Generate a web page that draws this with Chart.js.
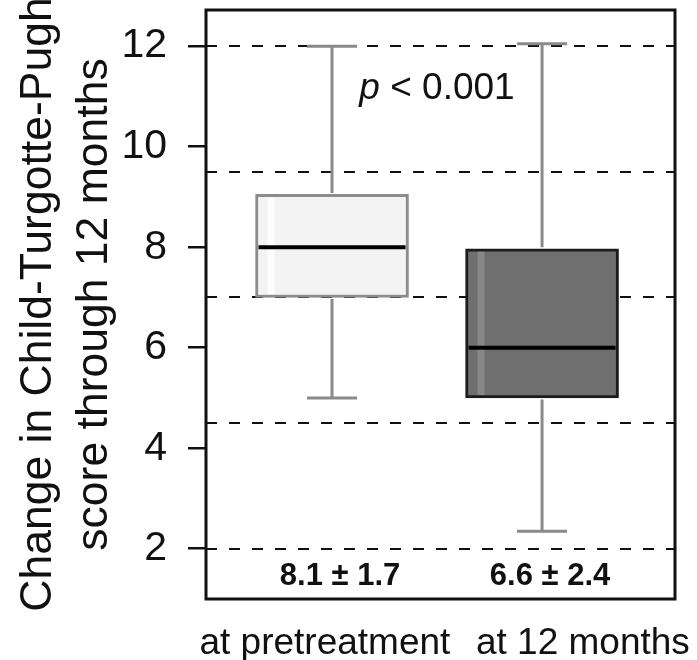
<!DOCTYPE html>
<html><head><meta charset="utf-8">
<script src="https://cdn.jsdelivr.net/npm/chart.js@4.4.1/dist/chart.umd.min.js"></script>
<style>html,body{margin:0;padding:0;background:#fff}</style>
</head><body>
<canvas id="c" width="697" height="660"></canvas>
<script>
// ---- data ----
const categories = ['at pretreatment', 'at 12 months'];
const whiskerLow = [5.0, 2.35];
const q1 = [7.0, 5.0];
const median = [8.0, 6.0];
const q3 = [9.05, 7.97];
const whiskerHigh = [12.0, 12.05];
const means = [8.1, 6.6];
const sds = [1.7, 2.4];
const yTicks = [2, 4, 6, 8, 10, 12];
const refLines = [2, 4.5, 7, 9.5, 12];
const pLabel = ['p', ' < 0.001'];
const yTitle = ['Change in Child-Turgotte-Pugh', 'score through 12 months'];

// ---- style ----
const boxFill = ['#f3f3f3', '#6f6f6f'];
const boxEdge = ['#8c8c8c', '#1c1c1c'];
const stripe = ['#ffffff', '#8d8d8d'];
const SANS = '"Liberation Sans", Arial, sans-serif';

const noPadV = s => { s.paddingTop = 0; s.paddingBottom = 0; };
const noPadH = s => { s.paddingLeft = 0; s.paddingRight = 0; };

const extras = {
  id: 'extras',
  afterDatasetsDraw(chart) {
    const ctx = chart.ctx, xs = chart.scales.x, ys = chart.scales.y;
    const meta = chart.getDatasetMeta(0);
    categories.forEach((c, i) => {
      const el = meta.data[i];
      const cx = xs.getPixelForValue(i);
      const left = el.x - el.width / 2, right = el.x + el.width / 2;
      const top = ys.getPixelForValue(q3[i]), bot = ys.getPixelForValue(q1[i]);
      ctx.save();
      // light stripe (shading)
      ctx.fillStyle = stripe[i];
      ctx.globalAlpha = 0.8;
      ctx.fillRect(left + 12, top + 3, 7, bot - top - 6);
      ctx.globalAlpha = 1;
      // whiskers
      ctx.strokeStyle = '#8a8a8a';
      ctx.lineWidth = 3;
      ctx.beginPath();
      const hi = ys.getPixelForValue(whiskerHigh[i]), lo = ys.getPixelForValue(whiskerLow[i]);
      ctx.moveTo(cx, top - 1.5); ctx.lineTo(cx, hi);
      ctx.moveTo(cx, bot + 1.5); ctx.lineTo(cx, lo);
      ctx.moveTo(cx - 25, hi); ctx.lineTo(cx + 25, hi);
      ctx.moveTo(cx - 25, lo); ctx.lineTo(cx + 25, lo);
      ctx.stroke();
      // median
      const m = ys.getPixelForValue(median[i]);
      ctx.strokeStyle = '#000';
      ctx.lineWidth = 4;
      ctx.beginPath();
      ctx.moveTo(left + 3, m); ctx.lineTo(right - 3, m);
      ctx.stroke();
      // mean ± sd
      ctx.fillStyle = '#111';
      ctx.font = 'bold 31px ' + SANS;
      ctx.textAlign = 'center';
      ctx.textBaseline = 'alphabetic';
      ctx.fillText(means[i].toFixed(1) + ' \u00b1 ' + sds[i].toFixed(1), cx + 8, ys.getPixelForValue(1.28));
      ctx.restore();
    });
    // p value
    ctx.save();
    ctx.fillStyle = '#111';
    ctx.textBaseline = 'alphabetic';
    ctx.textAlign = 'left';
    ctx.font = 'italic 37px ' + SANS;
    const w1 = ctx.measureText(pLabel[0]).width;
    ctx.font = '37px ' + SANS;
    const w2 = ctx.measureText(pLabel[1]).width;
    const px = xs.getPixelForValue(0.5) - (w1 + w2) / 2, py = ys.getPixelForValue(10.95);
    ctx.font = 'italic 37px ' + SANS;
    ctx.fillText(pLabel[0], px, py);
    ctx.font = '37px ' + SANS;
    ctx.fillText(pLabel[1], px + w1, py);
    ctx.restore();
  },
  afterDraw(chart) {
    const {ctx, chartArea: a} = chart;
    ctx.save();
    ctx.strokeStyle = '#111';
    ctx.lineWidth = 3;
    ctx.strokeRect(a.left, a.top, a.right - a.left, a.bottom - a.top);
    ctx.restore();
  }
};

new Chart(document.getElementById('c'), {
  type: 'bar',
  data: {
    datasets: [{
      data: categories.map((c, i) => ({x: i, y: [q1[i], q3[i]]})),
      backgroundColor: boxFill,
      borderColor: boxEdge,
      borderWidth: 3,
      borderSkipped: false,
      barThickness: 153,
      xAxisID: 'x',
      yAxisID: 'y'
    }]
  },
  options: {
    responsive: false,
    animation: false,
    events: [],
    layout: {padding: {top: 10, right: 22, bottom: 0, left: 0}},
    plugins: {legend: {display: false}, tooltip: {enabled: false}},
    scales: {
      x: {type: 'linear', display: false, offset: false, min: -0.6, max: 1.633,
        grid: {offset: false}, afterFit: noPadH},
      xl: {
        type: 'linear', position: 'bottom', offset: false, min: -0.461, max: 1.357,
        afterBuildTicks: ax => { ax.ticks = categories.map((c, i) => ({value: i})); },
        afterFit: s => { s.height = 61; noPadH(s); },
        grid: {display: false, offset: false}, border: {display: false},
        ticks: {autoSkip: false, maxRotation: 0, padding: 15, color: '#111',
          font: {family: SANS, size: 37}, callback: v => categories[v]}
      },
      y: {
        type: 'linear', position: 'left', min: 1.0, max: 12.72,
        afterBuildTicks: ax => { ax.ticks = yTicks.map(v => ({value: v})); },
        afterFit: s => { s.width = 206; noPadV(s); },
        grid: {drawOnChartArea: false, drawTicks: true, tickLength: 18, color: '#111', lineWidth: 2.5},
        border: {display: false},
        ticks: {padding: 21, color: '#111', font: {family: SANS, size: 41}},
        title: {display: true, text: yTitle, color: '#111', padding: {top: 11, bottom: 0},
          font: {family: SANS, size: 44.5, lineHeight: 1.25}}
      },
      yGrid: {
        type: 'linear', position: 'right', min: 1.0, max: 12.72,
        afterBuildTicks: ax => { ax.ticks = refLines.map(v => ({value: v})); },
        afterFit: s => { s.width = 0; noPadV(s); },
        grid: {drawTicks: false, color: '#111', lineWidth: 2},
        border: {display: false, dash: [11, 12]},
        ticks: {display: false}
      }
    }
  },
  plugins: [extras]
});
</script>
</body></html>
